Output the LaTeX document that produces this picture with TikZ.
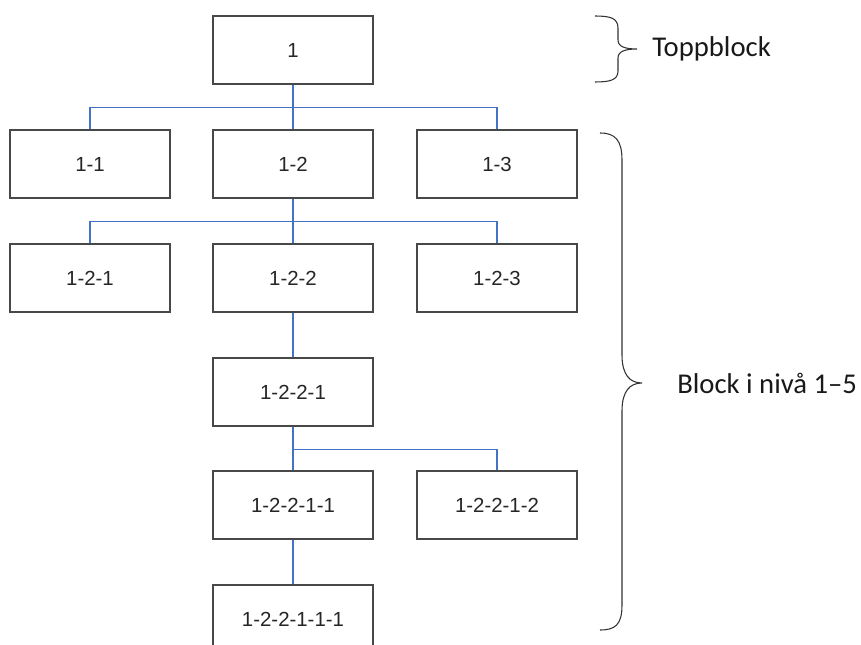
\documentclass[tikz,border=0pt]{standalone}
\usepackage{fontspec}
\setmainfont{Liberation Sans}
\newfontfamily\calibri{Carlito}
\usetikzlibrary{arrows}
\definecolor{blockgray}{RGB}{72,72,72}
\definecolor{linkblue}{RGB}{68,114,196}

\begin{document}
\begin{tikzpicture}
      [x=0.75pt, y=-0.75pt,
      block/.style={rectangle, draw=blockgray, line width=1.1pt, fill=white,
        minimum width=120pt, minimum height=51pt, inner sep=0pt,
        font=\fontsize{15.3}{18}\selectfont, text=black!85},
      link/.style={-, draw=linkblue, line width=1pt},
      curly/.style={draw=black!80, line width=0.8pt},
      note/.style={anchor=west, inner sep=0pt, font=\calibri\fontsize{21.5}{26}\selectfont, text=black!90}]
      \useasboundingbox (0,0) rectangle (861,645);
      \node (b1) at (293, 50) [block] {1};
      \node (b11) at (90, 164) [block] {1-1};
      \node (b12) at (293, 164) [block] {1-2};
      \node (b13) at (497, 164) [block] {1-3};
      \node (b121) at (90, 278) [block] {1-2-1};
      \node (b122) at (293, 278) [block] {1-2-2};
      \node (b123) at (497, 278) [block] {1-2-3};
      \node (b1221) at (293, 392) [block] {1-2-2-1};
      \node (b12211) at (293, 505) [block] {1-2-2-1-1};
      \node (b12212) at (497, 505) [block] {1-2-2-1-2};
      \node (b122111) at (293, 619) [block] {1-2-2-1-1-1};
      % blue connectors
      \draw[link] (b1) -- (b12);
      \draw[link] (b1.south) -- ++(0,23) -| (b11.north);
      \draw[link] (b1.south) -- ++(0,23) -| (b13.north);
      \draw[link] (b12) -- (b122);
      \draw[link] (b12.south) -- ++(0,23) -| (b121.north);
      \draw[link] (b12.south) -- ++(0,23) -| (b123.north);
      \draw[link] (b122) -- (b1221);
      \draw[link] (b1221) -- (b12211);
      \draw[link] (b1221.south) -- ++(0,23) -| (b12212.north);
      \draw[link] (b12211) -- (b122111);
      % braces
      \draw[curly] (595,16) .. controls (610,16) and (618,18) .. (618,28)
        -- (618,40) .. controls (618,47) and (626,49) .. (637,49)
        .. controls (626,49) and (618,51) .. (618,58)
        -- (618,71) .. controls (618,80) and (610,82) .. (595,82);
      \draw[curly] (600,133) .. controls (615,133) and (622,140) .. (622,160)
        -- (622,355) .. controls (622,375) and (630,383) .. (642,383)
        .. controls (630,383) and (622,391) .. (622,411)
        -- (622,605) .. controls (622,625) and (615,630) .. (600,630);
      \node (top) at (652, 49) [note] {Toppblock};
      \node (levels) at (677, 383) [note] {Block i nivå 1–5};
    \end{tikzpicture}
\end{document}
